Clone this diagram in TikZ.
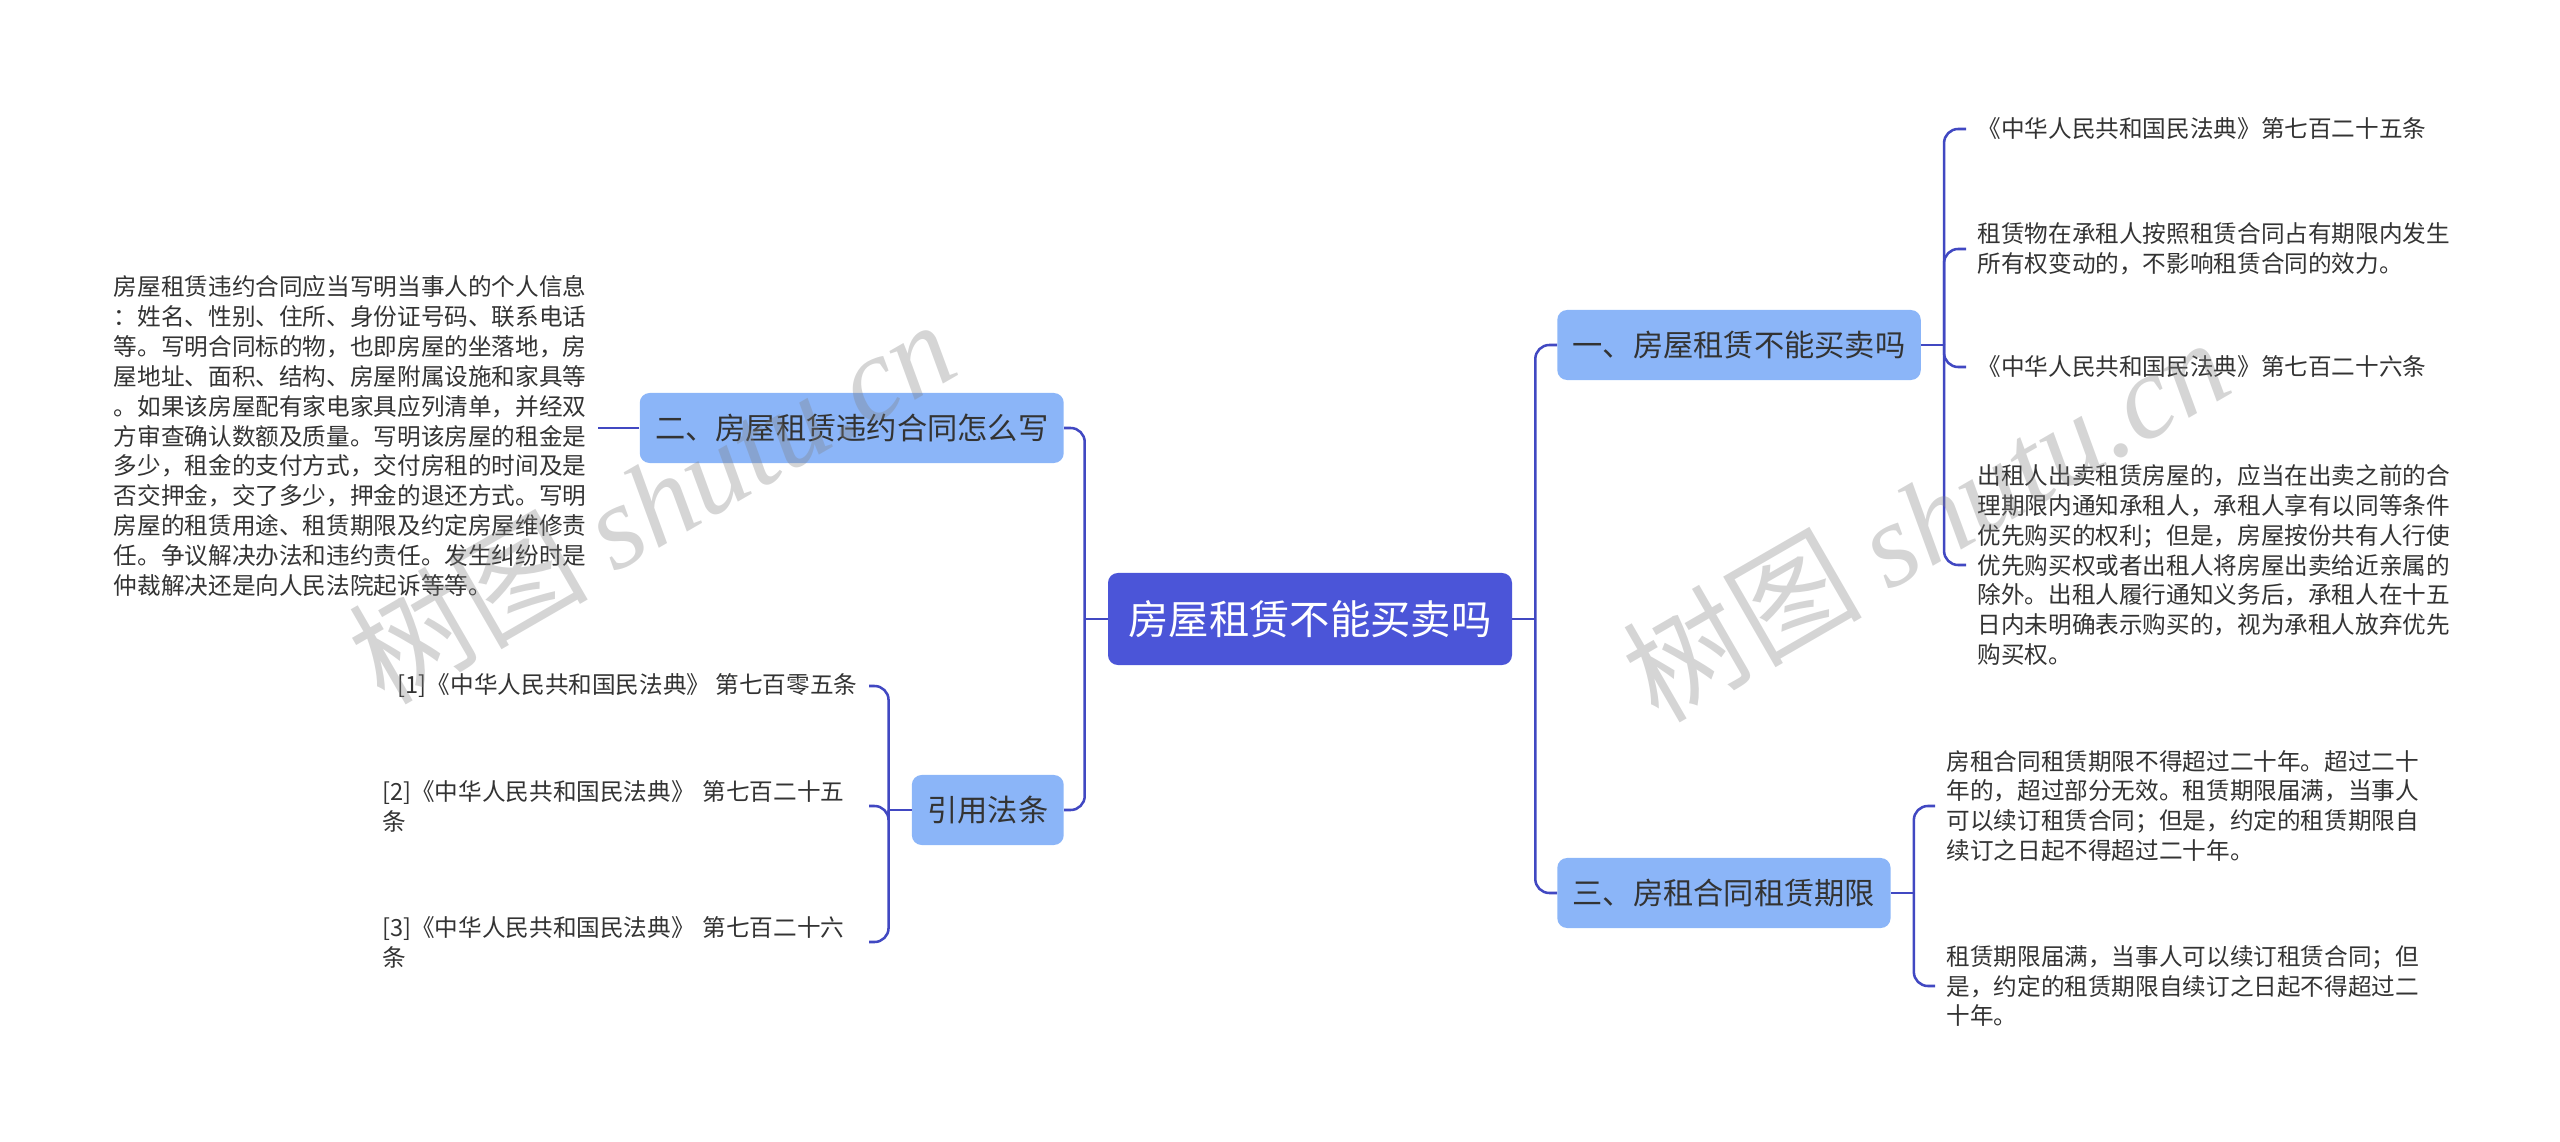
\documentclass[tikz,border=0pt]{standalone}
\usepackage{fontspec}
\setmainfont{Noto Sans CJK SC}
\newfontfamily\wmserif{Liberation Serif}
\usetikzlibrary{positioning}
\definecolor{rootblue}{HTML}{4B55D8}
\definecolor{branchblue}{HTML}{8BB5F8}
\definecolor{linkblue}{HTML}{4148C2}
\definecolor{textgray}{HTML}{333333}

\begin{document}
\begin{tikzpicture}[
  x=0.025cm,y=-0.025cm,
  root/.style={fill=rootblue,rounded corners=7pt,text=white,font=\fontsize{28.7pt}{34pt}\selectfont,minimum height=2.3cm,inner xsep=14.5pt},
  branch/.style={fill=branchblue,rounded corners=7pt,text=textgray,font=\fontsize{21.5pt}{26pt}\selectfont,minimum height=1.75cm,inner xsep=11pt},
  leaf/.style={text=textgray,font=\fontsize{16.8pt}{21.3pt}\selectfont,align=left,inner xsep=8pt,inner ysep=2pt},
  link/.style={draw=linkblue,line width=1.8pt},
  elbow/.style={link,rounded corners=10pt},
  wmark/.style={text=black!50,opacity=0.33,rotate=30,font=\fontsize{85pt}{85pt}\selectfont}
]
\useasboundingbox (0,0) rectangle (2560,1142);

\node[root] (root) at (1310,619) {房屋租赁不能买卖吗};

\node[branch,anchor=east] (l1) at (1064,428) {二、房屋租赁违约合同怎么写};
\node[branch,anchor=east] (l2) at (1064,810) {引用法条};
\node[branch,anchor=west] (r1) at (1557,345) {一、房屋租赁不能买卖吗};
\node[branch,anchor=west] (r3) at (1557,893) {三、房租合同租赁期限};

% left side
\node[leaf,anchor=east] (t1) at (598,436) {房屋租赁违约合同应当写明当事人的个人信息\\：姓名、性别、住所、身份证号码、联系电话\\等。写明合同标的物，也即房屋的坐落地，房\\屋地址、面积、结构、房屋附属设施和家具等\\。如果该房屋配有家电家具应列清单，并经双\\方审查确认数额及质量。写明该房屋的租金是\\多少，租金的支付方式，交付房租的时间及是\\否交押金，交了多少，押金的退还方式。写明\\房屋的租赁用途、租赁期限及约定房屋维修责\\任。争议解决办法和违约责任。发生纠纷时是\\仲裁解决还是向人民法院起诉等等。};

\node[leaf,anchor=east] (k1) at (869,686) {[1]《中华人民共和国民法典》 第七百零五条};
\node[leaf,anchor=east,text width=338pt] (k2) at (869,806) {[2]《中华人民共和国民法典》 第七百二十五\\条};
\node[leaf,anchor=east,text width=338pt] (k3) at (869,942) {[3]《中华人民共和国民法典》 第七百二十六\\条};

% right side
\node[leaf,anchor=west] (c1) at (1966,129) {《中华人民共和国民法典》第七百二十五条};
\node[leaf,anchor=west] (c2) at (1966,249) {租赁物在承租人按照租赁合同占有期限内发生\\所有权变动的，不影响租赁合同的效力。};
\node[leaf,anchor=west] (c3) at (1966,367) {《中华人民共和国民法典》第七百二十六条};
\node[leaf,anchor=west] (c4) at (1966,565) {出租人出卖租赁房屋的，应当在出卖之前的合\\理期限内通知承租人，承租人享有以同等条件\\优先购买的权利；但是，房屋按份共有人行使\\优先购买权或者出租人将房屋出卖给近亲属的\\除外。出租人履行通知义务后，承租人在十五\\日内未明确表示购买的，视为承租人放弃优先\\购买权。};

\node[leaf,anchor=west] (c5) at (1935,806) {房租合同租赁期限不得超过二十年。超过二十\\年的，超过部分无效。租赁期限届满，当事人\\可以续订租赁合同；但是，约定的租赁期限自\\续订之日起不得超过二十年。};
\node[leaf,anchor=west] (c6) at (1935,986) {租赁期限届满，当事人可以续订租赁合同；但\\是，约定的租赁期限自续订之日起不得超过二\\十年。};

% connectors
\draw[link] (root.west) -- ++(-23,0) coordinate (lj);
\foreach \b in {l1,l2}
  \draw[elbow] (lj) |- (\b.east);
\draw[link] (root.east) -- ++(23,0) coordinate (rj);
\foreach \b in {r1,r3}
  \draw[elbow] (rj) |- (\b.west);

\draw[link] (l1.west) -- (l1.west -| t1.east);

\draw[link] (l2.west) -- ++(-23,0) coordinate (l2j);
\foreach \k in {k1,k2,k3}
  \draw[elbow] (l2j) |- (\k.east);

\draw[link] (r1.east) -- ++(23,0) coordinate (r1j);
\foreach \c in {c1,c2,c3,c4}
  \draw[elbow] (r1j) |- (\c.west);

\draw[link] (r3.east) -- ++(23,0) coordinate (r3j);
\foreach \c in {c5,c6}
  \draw[elbow] (r3j) |- (\c.west);

% watermark
\node[wmark] (wm1) at (651,500) {树图 {\wmserif\itshape shutu.cn}};
\node[wmark] (wm2) at (1925,518) {树图 {\wmserif\itshape shutu.cn}};
\end{tikzpicture}
\end{document}
